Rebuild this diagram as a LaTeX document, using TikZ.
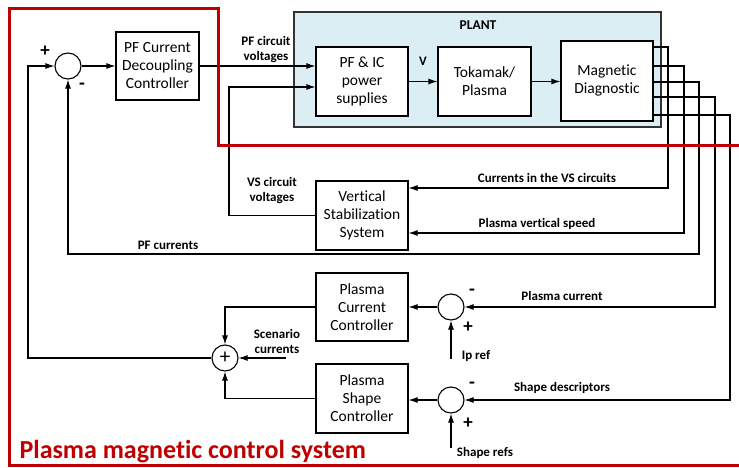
\documentclass[tikz,border=0pt]{standalone}
\usepackage{fontspec}
\setmainfont{Carlito}[Ligatures=NoCommon]
\usetikzlibrary{arrows.meta}
\definecolor{plantblue}{HTML}{DAEEF3}
\definecolor{frame}{HTML}{C00000}
\begin{document}
\begin{tikzpicture}[x=1pt,y=-1pt,
  line width=1.1pt,
  blk/.style={draw=black,fill=white,rectangle,align=center,inner sep=0pt,
    font=\fontsize{15.5}{18}\selectfont},
  sumj/.style={draw=black,fill=white,circle,minimum size=26pt,inner sep=0pt},
  arr/.style={-{Latex[length=9pt,width=6pt]}},
  lbl/.style={font=\fontsize{13}{15}\selectfont\bfseries,align=center,inner sep=0pt},
  sgn/.style={font=\fontsize{19}{19}\selectfont\bfseries,inner sep=0pt}]
\useasboundingbox (0,0) rectangle (739,468);
\fill[white] (0,0) rectangle (739,468);

% plant
\node[draw=black!80,fill=plantblue,rectangle,minimum width=367pt,minimum height=115pt,inner sep=0pt] (plant) at (477.5,69.5) {};
\node[lbl,font=\fontsize{13.5}{15}\selectfont\bfseries] (plantl) at (478,25) {PLANT};

\node[blk,minimum width=83pt,minimum height=68pt] (pfd) at (157.5,66) {PF Current\\Decoupling\\Controller};
\node[blk,minimum width=92pt,minimum height=69pt] (pfic) at (362,81.5) {PF \& IC\\power\\supplies};
\node[blk,minimum width=93pt,minimum height=69pt] (tok) at (484.5,81.5) {Tokamak/\\Plasma};
\node[blk,minimum width=92pt,minimum height=80pt] (md) at (607,81) {Magnetic\\Diagnostic};
\node[blk,minimum width=92pt,minimum height=69pt] (vs) at (362,215.5) {Vertical\\Stabilization\\System};
\node[blk,minimum width=92pt,minimum height=68pt] (pcc) at (362,307) {Plasma\\Current\\Controller};
\node[blk,minimum width=92pt,minimum height=69pt] (psc) at (362,398.5) {Plasma\\Shape\\Controller};

\node[sumj] (s1) at (68,66) {};
\node[sumj] (s2) at (225,358) {\fontsize{21}{21}\selectfont +};
\node[sumj] (s3) at (451,307) {};
\node[sumj] (s4) at (451,400) {};

% signs
\node[sgn] (p1) at (45,51) {+};
\node[sgn] (m1s) at (82,86) {-};
\node[sgn] (m3s) at (472,292) {-};
\node[sgn] (p3) at (468,327) {+};
\node[sgn] (m4s) at (472,385) {-};
\node[sgn] (p4) at (468,423) {+};

% coordinates
\coordinate (o1) at (653,47);
\coordinate (o2) at (653,66);
\coordinate (o3) at (653,82);
\coordinate (o4) at (653,97);
\coordinate (o5) at (653,115);
\coordinate (c1) at (668,188);
\coordinate (c2) at (684,233);
\coordinate (c3) at (699,254);
\coordinate (c4) at (715,307);
\coordinate (c5) at (730,400);
\coordinate (vsup) at (229,87);
\coordinate (fb) at (28,358);
\coordinate (scen) at (286,358);
\coordinate (ipref) at (451,359);
\coordinate (shref) at (451,448);

% connectors
\draw[arr] (s1.east) -- (pfd.west);
\draw[arr] (pfd.east) -- (pfd.east -| pfic.west);
\draw[arr] (vs.west) -- (vs.west -| vsup) -- (vsup) -- (vsup -| pfic.west);
\draw[arr] (pfic.east |- tok.west) -- (tok.west);
\draw[arr] (tok.east) -- (tok.east -| md.west);

\draw[arr] (o1) -- (o1 -| c1) -- (c1) -- (c1 -| vs.east);
\draw[arr] (o2) -- (o2 -| c2) -- (c2) -- (c2 -| vs.east);
\draw[arr] (o3) -- (o3 -| c3) -- (c3) -- (c3 -| s1) -- (s1.south);
\draw[arr] (o4) -- (o4 -| c4) -- (c4) -- (s3.east);
\draw[arr] (o5) -- (o5 -| c5) -- (c5) -- (s4.east);

\draw[arr] (s3.west) -- (pcc.east);
\draw[arr] (s4.west) -- (psc.east |- s4.west);
\draw[arr] (pcc.west) -- (pcc.west -| s2) -- (s2.north);
\draw[arr] (psc.west) -- (psc.west -| s2) -- (s2.south);
\draw[arr] (scen) -- (s2.east);
\draw[arr] (s2.west) -- (fb) -- (fb |- s1) -- (s1.west);
\draw[arr] (ipref) -- (s3.south);
\draw[arr] (shref) -- (s4.south);

% labels
\node[lbl] (lpfv) at (266,50) {PF circuit\\voltages};
\node[lbl] (lv) at (423,61) {V};
\node[lbl] (lvsv) at (272,191) {VS circuit\\voltages};
\node[lbl] (lcvs) at (547,178) {Currents in the VS circuits};
\node[lbl] (lpvs) at (537,224) {Plasma vertical speed};
\node[lbl] (lpfc) at (168,245) {PF currents};
\node[lbl] (lsc) at (277,341) {Scenario\\currents};
\node[lbl] (lpc) at (562,296) {Plasma current};
\node[lbl] (lip) at (476,356) {Ip ref};
\node[lbl] (lsd) at (562,388) {Shape descriptors};
\node[lbl] (lsr) at (485,453) {Shape refs};

% red frame
\draw[frame,line width=3pt] (739,146) -- (218,146) -- (218,9) -- (9,9) -- (9,465) -- (739,465);
\node[anchor=west,text=frame,font=\fontsize{26}{26}\selectfont\bfseries,inner sep=0pt] (title) at (19,452) {Plasma magnetic control system};
\end{tikzpicture}
\end{document}
